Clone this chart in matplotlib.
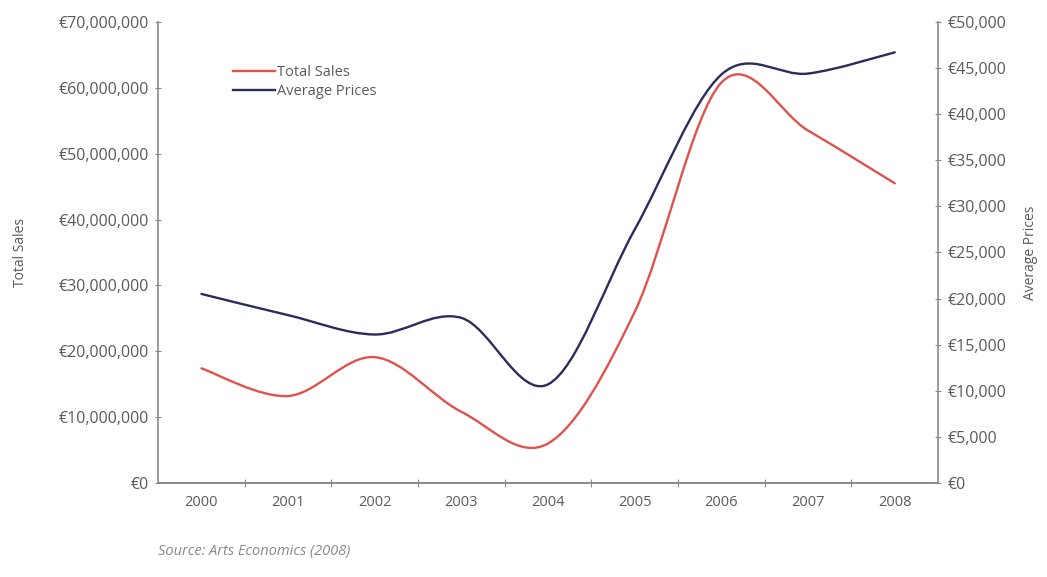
import matplotlib
matplotlib.use("Agg")
import matplotlib.pyplot as plt
from matplotlib.path import Path
from matplotlib.patches import PathPatch
from matplotlib.ticker import FuncFormatter, MultipleLocator
import numpy as np

plt.rcParams['font.family'] = ['Open Sans', 'DejaVu Sans']

# Data
years = ['2000', '2001', '2002', '2003', '2004', '2005', '2006', '2007', '2008']
total_sales = [17.4e6, 13.2e6, 19.1e6, 10.8e6, 6.0e6, 26.0e6, 60.8e6, 53.5e6, 45.5e6]
average_prices = [20500, 18200, 16100, 17900, 10700, 27500, 44300, 44400, 46700]

RED = '#e0524c'
NAVY = '#2b2b5c'
TEXT = '#5a5a5a'
SPINE = '#8a8a8a'


def smooth_path(xs, ys):
    """Cubic Bezier path through the points (Catmull-Rom style smoothing)."""
    pts = np.column_stack([xs, ys]).astype(float)
    n = len(pts)
    verts = [pts[0]]
    codes = [Path.MOVETO]
    for i in range(n - 1):
        p0 = pts[i - 1] if i > 0 else pts[i]
        p1 = pts[i]
        p2 = pts[i + 1]
        p3 = pts[i + 2] if i + 2 < n else pts[i + 1]
        c1 = p1 + (p2 - p0) / 6.0
        c2 = p2 - (p3 - p1) / 6.0
        verts += [c1, c2, p2]
        codes += [Path.CURVE4] * 3
    return Path(verts, codes)


fig = plt.figure(figsize=(10.47, 5.77), dpi=100)
ax = fig.add_axes([0.151, 0.163, 0.745, 0.799])
ax2 = ax.twinx()

x = np.arange(len(years))

ax.set_xlim(-0.5, len(years) - 0.5)
ax.set_ylim(0, 70e6)
ax2.set_ylim(0, 50000)

red_path = PathPatch(smooth_path(x, total_sales), facecolor='none', edgecolor=RED,
                     lw=1.7, transform=ax.transData, capstyle='round', zorder=3)
ax.add_patch(red_path)
navy_path = PathPatch(smooth_path(x, average_prices), facecolor='none', edgecolor=NAVY,
                      lw=1.7, transform=ax2.transData, capstyle='round', zorder=3)
ax2.add_patch(navy_path)

# Spines
for a in (ax, ax2):
    a.spines['top'].set_visible(False)
    for s in ('left', 'right', 'bottom'):
        a.spines[s].set_color(SPINE)
        a.spines[s].set_linewidth(1.2)
ax.spines['right'].set_visible(False)
ax2.spines['left'].set_visible(False)

# Tick formatting
euro = FuncFormatter(lambda v, p: '€{:,.0f}'.format(v))
ax.yaxis.set_major_locator(MultipleLocator(10e6))
ax.yaxis.set_major_formatter(euro)
ax2.yaxis.set_major_locator(MultipleLocator(5000))
ax2.yaxis.set_major_formatter(euro)

ax.set_xticks(np.arange(0.5, len(years) - 0.5, 1.0))
ax.set_xticklabels([])
ax.set_xticks(x, minor=True)
ax.set_xticklabels(years, minor=True)
ax.tick_params(axis='x', which='major', direction='inout', length=6, color=SPINE)
ax.tick_params(axis='x', which='minor', length=0, pad=9, labelsize=10.5, labelcolor=TEXT)
ax.tick_params(axis='y', direction='inout', length=5, color=SPINE, labelsize=11.5,
               labelcolor=TEXT, pad=4)
ax2.tick_params(axis='y', direction='inout', length=5, color=SPINE, labelsize=11.5,
                labelcolor=TEXT, pad=4)

ax.set_ylabel('Total Sales', color=TEXT, fontsize=10, labelpad=22)
ax2.set_ylabel('Average Prices', color=TEXT, fontsize=10, labelpad=12)

# Legend
handles = [plt.Line2D([], [], color=RED, lw=1.7), plt.Line2D([], [], color=NAVY, lw=1.7)]
leg = ax.legend(handles, ['Total Sales', 'Average Prices'], loc='upper left',
                bbox_to_anchor=(0.088, 0.92), frameon=False, fontsize=10.5,
                handlelength=2.9, handletextpad=0.15, labelspacing=0.3,
                borderaxespad=0)
for t in leg.get_texts():
    t.set_color(TEXT)

fig.text(0.151, 0.038, 'Source: Arts Economics (2008)', fontsize=10.5,
         style='italic', color='#8a8a8a')

fig.savefig('out.png', dpi=100, facecolor='white')
